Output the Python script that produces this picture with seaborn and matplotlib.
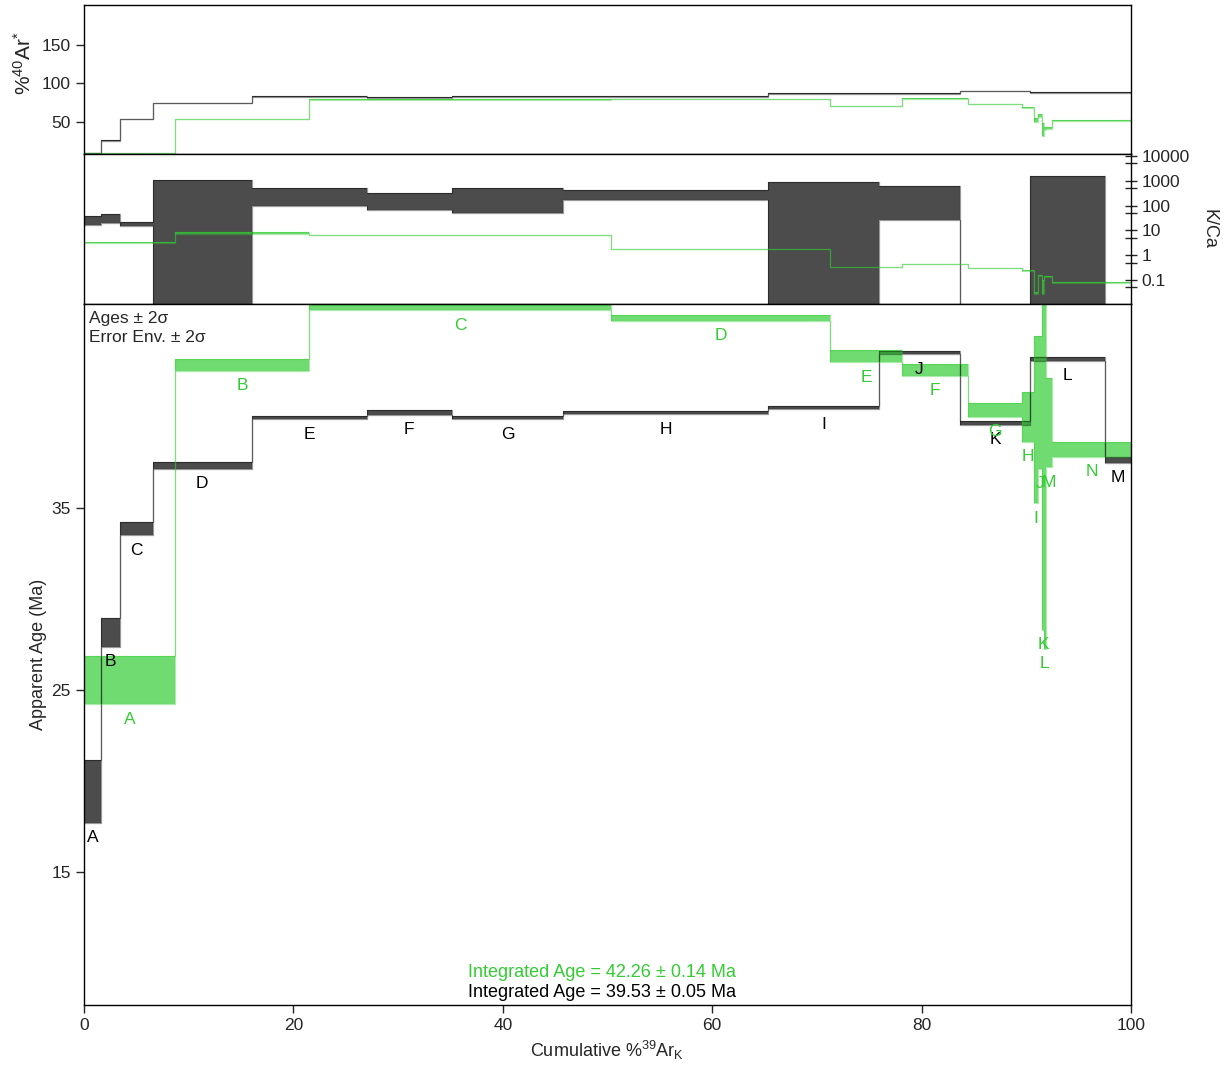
import matplotlib
matplotlib.use('Agg')
import matplotlib.pyplot as plt
import seaborn as sns

# step labels and cumulative %39ArK at the right edge of each step
steps_black = list('ABCDEFGHIJKLM')
cum_black = [1.62, 3.44, 6.59, 16.02, 27.03, 35.12, 45.78, 65.36, 75.93, 83.67, 90.35, 97.56, 100.0]
age_black = [19.42, 28.16, 33.86, 37.33, 39.96, 40.23, 39.96, 40.23, 40.51, 43.54, 39.67, 43.19, 37.65]
err_black = [1.73, 0.80, 0.37, 0.17, 0.10, 0.12, 0.09, 0.10, 0.09, 0.09, 0.09, 0.10, 0.17]
ar40_black = [10.0, 26.2, 53.9, 74.6, 83.1, 81.8, 83.1, 83.1, 87.0, 87.0, 90.1, 88.8, 88.8]
ar40_err_black = [0.5, 1.0, 0.5, 0.5, 0.5, 0.5, 0.5, 0.5, 0.5, 0.5, 0.5, 0.5, 0.5]
kca_lo_black = [17, 19, 15.5, 0.001, 93, 68, 49, 174, 0.001, 25, 0.001, 0.001, 0.001]
kca_hi_black = [39, 44, 21, 1100, 513, 324, 513, 427, 910, 617, 0.005, 1620, 0.005]

steps_green = list('ABCDEFGHIJKLMN')
cum_green = [8.69, 21.49, 50.38, 71.25, 78.17, 84.43, 89.56, 90.76, 91.15, 91.5, 91.68, 91.88, 92.5, 100.0]
age_green = [25.53, 42.87, 46.0, 45.45, 43.34, 42.59, 40.38, 40.0, 39.86, 40.8, 40.3, 40.0, 39.67, 38.21]
err_green = [1.33, 0.33, 0.13, 0.16, 0.35, 0.32, 0.37, 1.36, 4.6, 3.65, 12.0, 12.75, 2.45, 0.4]
ar40_green = [10.0, 53.9, 78.8, 79.8, 70.7, 81.0, 73.3, 69.1, 52.7, 58.2, 40.4, 42.2, 42.2, 51.7]
ar40_err_green = [0.5, 0.5, 0.5, 0.5, 0.5, 0.5, 0.5, 1.0, 2.4, 2.2, 9.0, 2.0, 1.3, 0.5]
kca_lo_green = [3.0, 7.4, 6.3, 1.72, 0.32, 0.425, 0.29, 0.225, 0.027, 0.14, 0.026, 0.13, 0.135, 0.078]
kca_hi_green = [3.4, 8.4, 6.7, 1.84, 0.34, 0.455, 0.31, 0.25, 0.033, 0.16, 0.10, 0.15, 0.145, 0.082]

integrated = [('Integrated Age = 42.26 ± 0.14 Ma', 'green'),
              ('Integrated Age = 39.53 ± 0.05 Ma', 'black')]

GREEN = '#33cc33'
DARK = 'black'

sns.set_style('white')
plt.rcParams['font.family'] = ['Liberation Sans', 'DejaVu Sans']
plt.rcParams['mathtext.fontset'] = 'custom'
plt.rcParams['mathtext.rm'] = 'Liberation Sans'
plt.rcParams['mathtext.it'] = 'Liberation Sans:italic'
plt.rcParams['font.size'] = 12.5

fig = plt.figure(figsize=(12.32, 10.69), dpi=100)
left, width = 84 / 1232, 1047 / 1232
ax_ar = fig.add_axes([left, 915 / 1069, width, 149 / 1069])
ax_kca = fig.add_axes([left, 765 / 1069, width, 150 / 1069])
ax = fig.add_axes([left, 64 / 1069, width, 701 / 1069])


def draw_steps(axis, cum, lo, hi, color):
    x0 = [0.0] + cum[:-1]
    w = [b - a for a, b in zip(x0, cum)]
    h = [b - a for a, b in zip(lo, hi)]
    axis.bar(x0, h, width=w, bottom=lo, align='edge', color=color, alpha=0.7, lw=0)
    xs = x0 + [cum[-1]]
    for env in (lo, hi):
        sns.lineplot(x=xs, y=list(env) + [env[-1]], ax=axis, drawstyle='steps-post',
                     color=color, lw=0.9, alpha=0.4, estimator=None, legend=False)
    return x0


def label_steps(axis, x0, cum, lo, names, color):
    for a, b, y, n in zip(x0, cum, lo, names):
        axis.annotate(n, ((a + b) / 2, y), xytext=(0, -15), textcoords='offset pixels',
                      ha='center', va='center', color=color, fontsize=12.5)


# %40Ar* panel
for vals, errs, cum, col in [(ar40_black, ar40_err_black, cum_black, DARK),
                             (ar40_green, ar40_err_green, cum_green, GREEN)]:
    lo = [v - e for v, e in zip(vals, errs)]
    hi = [v + e for v, e in zip(vals, errs)]
    draw_steps(ax_ar, cum, lo, hi, col)
ax_ar.set_xlim(0, 100)
ax_ar.set_ylim(8.6, 201.7)
ax_ar.set_yticks([50, 100, 150])
ax_ar.set_xticks([])
ax_ar.set_ylabel(r'%$^{40}$Ar$^{*}$', fontsize=15)
ax_ar.yaxis.set_label_coords(-0.047, 0.61)

# K/Ca panel
ax_kca.set_yscale('log')
draw_steps(ax_kca, cum_black, kca_lo_black, kca_hi_black, DARK)
draw_steps(ax_kca, cum_green, kca_lo_green, kca_hi_green, GREEN)
ax_kca.set_xlim(0, 100)
ax_kca.set_ylim(0.0107, 12000)
ax_kca.set_xticks([])
ax_kca.yaxis.tick_right()
ax_kca.set_yticks([0.1, 1, 10, 100, 1000, 10000],
                  labels=['0.1', '1', '10', '100', '1000', '10000'])
ax_kca.set_yticks([0.05, 0.5, 5, 50, 500, 5000], minor=True)
ax_kca.yaxis.set_minor_formatter(matplotlib.ticker.NullFormatter())
ax_kca.tick_params(axis='y', which='both', direction='inout', length=8, width=1,
                   right=True, left=False, labelsize=12.5)
ax_kca.yaxis.set_label_position('right')
ax_kca.set_ylabel('K/Ca', rotation=270, labelpad=20, fontsize=13)

# age spectrum
lo_b = [a - e for a, e in zip(age_black, err_black)]
hi_b = [a + e for a, e in zip(age_black, err_black)]
x0_b = draw_steps(ax, cum_black, lo_b, hi_b, DARK)
label_steps(ax, x0_b, cum_black, lo_b, steps_black, 'black')

lo_g = [a - e for a, e in zip(age_green, err_green)]
hi_g = [a + e for a, e in zip(age_green, err_green)]
x0_g = draw_steps(ax, cum_green, lo_g, hi_g, GREEN)
label_steps(ax, x0_g, cum_green, lo_g, steps_green, GREEN)

ax.set_xlim(0, 100)
ax.set_ylim(7.69, 46.2)
ax.set_yticks([15, 25, 35])
ax.set_xticks([0, 20, 40, 60, 80, 100])
ax.tick_params(axis='both', direction='out', length=6, width=1, labelsize=12.5,
               bottom=True, left=True)
ax.set_xlabel(r'Cumulative %$^{39}$Ar$_{\mathrm{K}}$', fontsize=13)
ax.set_ylabel('Apparent Age (Ma)', fontsize=13)
ax.yaxis.set_label_coords(-0.035, 0.5)

ax.text(0.005, 0.99, 'Ages ± 2σ\nError Env. ± 2σ', transform=ax.transAxes,
        ha='left', va='top', fontsize=12.5, linespacing=1.35)
for (txt, col), yy in zip(integrated, [0.047, 0.0185]):
    ax.text(0.495, yy, txt, transform=ax.transAxes, ha='center', va='center',
            color=GREEN if col == 'green' else 'black', fontsize=13)

ax_ar.tick_params(axis='y', direction='out', length=6, width=1, left=True, labelsize=12.5)
for a in (ax, ax_kca, ax_ar):
    for sp in a.spines.values():
        sp.set_color('black')
        sp.set_linewidth(1)

fig.savefig('out.png', dpi=100)
